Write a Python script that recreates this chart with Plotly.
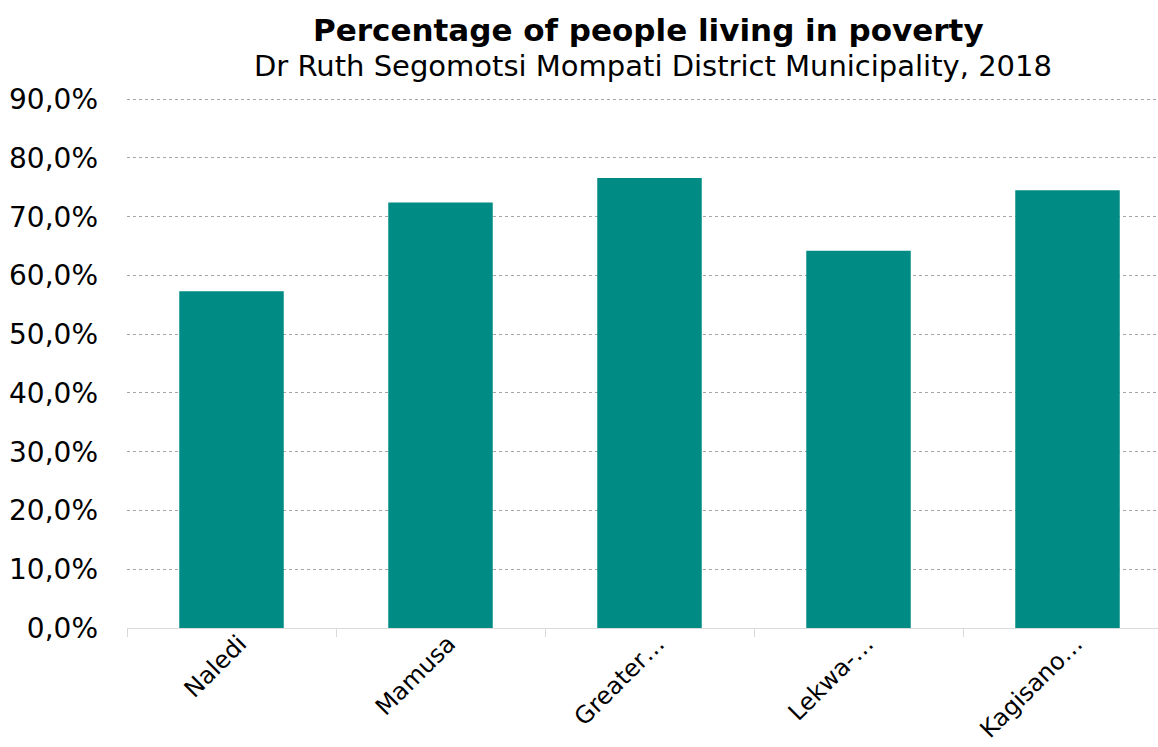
import plotly.graph_objects as go

categories = ["Naledi", "Mamusa", "Greater…", "Lekwa-…", "Kagisano…"]
poverty_pct = [57.3, 72.4, 76.6, 64.2, 74.5]
y_ticks = [0, 10, 20, 30, 40, 50, 60, 70, 80, 90]
y_tick_labels = [f"{v:.1f}%".replace(".", ",") for v in y_ticks]

W, H = 1158, 747
L, T, B = 127, 98, 119
cat_px = 209.0
x_end = -0.5 + (W - L) / cat_px

fig = go.Figure(go.Bar(
    x=categories, y=poverty_pct,
    marker=dict(color="#008C84", line=dict(width=0)),
    width=0.5,
))

fig.update_layout(
    width=W, height=H,
    margin=dict(l=L, r=0, t=T, b=B, autoexpand=False),
    paper_bgcolor="white", plot_bgcolor="white",
    font=dict(family="DejaVu Sans", color="black"),
    showlegend=False,
    bargap=0.5,
)
fig.update_xaxes(
    type="category", range=[-0.5, x_end], automargin=False,
    tickangle=-45, tickfont=dict(size=24),
    ticklabelstandoff=-9, ticklabelshift=8,
    showline=True, linecolor="#d9d9d9", linewidth=1,
    showgrid=False, zeroline=False,
    tickson="boundaries", ticks="outside", ticklen=8, tickcolor="#d9d9d9",
)
fig.update_yaxes(
    range=[0, 90.2], automargin=False,
    tickmode="array", tickvals=y_ticks, ticktext=y_tick_labels,
    tickfont=dict(size=28),
    showgrid=True, gridcolor="#a6a6a6", griddash="dot", gridwidth=1,
    zeroline=False, showline=False, ticks="", ticklabelstandoff=28,
)

fig.add_annotation(text="<b>Percentage of people living in poverty</b>",
                   xref="paper", yref="paper", x=(648 - L) / (W - L), y=1,
                   yshift=T - 30, showarrow=False, font=dict(size=31), yanchor="middle")
fig.add_annotation(text="Dr Ruth Segomotsi Mompati District Municipality, 2018",
                   xref="paper", yref="paper", x=(653 - L) / (W - L), y=1,
                   yshift=T - 66, showarrow=False, font=dict(size=29), yanchor="middle")

fig.write_html("out.html")
